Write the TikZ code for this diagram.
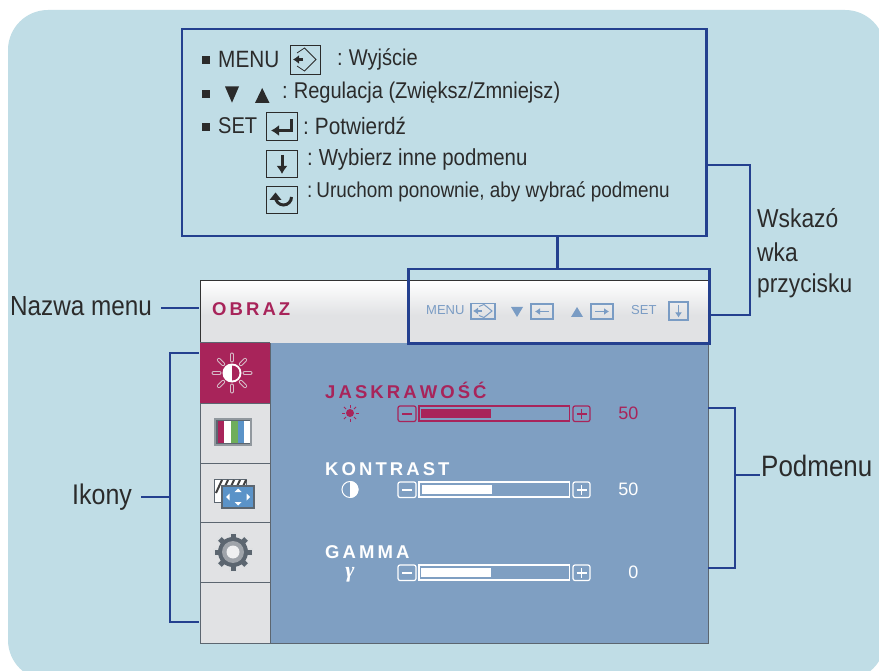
\documentclass[tikz,border=0pt]{standalone}
\usepackage{xcolor}
\usepackage{fontspec}
\setmainfont{Liberation Sans}
\newfontfamily\waski[FakeStretch=0.88]{Liberation Sans}
\newfontfamily\grecki{Liberation Serif}
\usetikzlibrary{calc}
\usetikzlibrary{positioning}
\usetikzlibrary{arrows.meta}
\definecolor{tlo}{HTML}{C0DDE6}
\definecolor{linia}{HTML}{24408F}
\definecolor{panel}{HTML}{7F9FC2}
\definecolor{szary}{HTML}{E1E2E4}
\definecolor{malina}{HTML}{A8245A}
\definecolor{ramka}{HTML}{5C6670}
\definecolor{tekst}{HTML}{2B2B2B}
\definecolor{ikona}{HTML}{7A9CC4}
\definecolor{zielony}{HTML}{6FAE5B}
\definecolor{niebieski}{HTML}{5B93C8}
\tikzset{
	opis/.style={inner sep=0pt,anchor=west,text=tekst,font=\waski\fontsize{#1}{#1}\selectfont},
	wpis/.style={inner sep=0pt,anchor=west,text=tekst,font=\waski\fontsize{#1}{#1}\selectfont},
	klamra/.style={linia,line width=2.5pt},
	okno/.style={draw=linia,line width=2.5pt,outer sep=0pt,inner sep=0pt,anchor=north west},
	znak/.style={draw=tekst,line width=0.8pt,fill=none},
	grot/.style={tekst,line width=3pt,-{Latex[length=8pt,width=11pt]}},
	mbox/.style={fill=tekst,minimum size=8pt,inner sep=0pt},
	podzial/.style={ramka,line width=1pt},
	tytul/.style={inner sep=0pt,anchor=west,font=\bfseries\fontsize{18.5}{18.5}\selectfont},
	wartosc/.style={inner sep=0pt,anchor=east,font=\fontsize{18}{18}\selectfont},
	pas/.style={inner sep=0pt,anchor=west,text=ikona,font=\fontsize{13}{13}\selectfont},
	pasek grot/.style={ikona,line width=1.8pt,-{Latex[length=5pt,width=7pt]}},
}
\newcommand{\suwak}[4]{%
	\draw[#1,line width=1.2pt,rounded corners=2pt] (398,#2-7.5) rectangle (416,#2+8);
	\draw[#1,line width=1.2pt] (402,#2+0.5)--(412,#2+0.5);
	\draw[#1,line width=1.2pt] (419,#2-7.5) rectangle (569.5,#2+7.5);
	\fill[#1] (#3,#2-4.5) rectangle (#3+70,#2+4.5);
	\draw[#1,line width=1.2pt,rounded corners=2pt] (573,#2-7.5) rectangle (590,#2+8);
	\draw[#1,line width=1.2pt] (576.5,#2+0.5)--(586.5,#2+0.5) (581.5,#2-4.5)--(581.5,#2+5.5);
	\node[wartosc,text=#1] at (638.5,#2) {#4};
}
\begin{document}
\begin{tikzpicture}[x=1pt,y=-1pt]
	\useasboundingbox (0,0) rectangle (879,671);
	\fill[white] (0,0) rectangle (879,671);
	\fill[tlo,rounded corners=40pt] (8,10) rectangle (885,680);
	% monitor
	\shade[top color=white,bottom color=szary] (200,281) rectangle (708,315);
	\fill[szary] (200,315) rectangle (708,343);
	\draw[black!80,line width=1pt] (200,343)--(200,281)--(708,281);
	\fill[panel] (270,343) rectangle (708,643);
	\fill[szary] (200,343) rectangle (270,643);
	\draw[ramka,line width=1pt] (708,343)--(708,643)--(200,643)--(200,343);
	\node[tytul,text=malina] (obraz) at (212,309) {O\,B\,R\,A\,Z};
	% ikony
	\fill[malina] (200,343) rectangle (270,403);
	\draw[podzial] (200,343)--(270,343) (200,403)--(270,403) (200,463)--(270,463) (200,522)--(270,522) (200,582)--(270,582);
	\draw[ramka,line width=1pt] (270,343)--(270,643);
	\foreach \k in {0,45,...,315}{
		\draw[szary!80!malina,line width=4pt,line cap=round] ($(232,373)+(\k:12.5)$)--($(232,373)+(\k:18.5)$);
		\draw[malina,line width=2pt,line cap=round] ($(232,373)+(\k:12.5)$)--($(232,373)+(\k:18.5)$);
	}
	\fill[white] (232,373) circle (9.5);
	\fill[malina] (232,365.5) arc (-90:90:7.5) -- cycle;
	\fill[ramka!60!szary] (214,418) rectangle (252,446);
	\fill[ramka] (216,420) rectangle (250,444);
	\fill[white] (217.5,421) rectangle (250,443);
	\fill[malina] (217.5,421) rectangle (224,443);
	\fill[zielony] (231,421) rectangle (237.5,443);
	\fill[niebieski] (237.5,421) rectangle (244,443);
	\fill[white,draw=ramka,line width=1pt] (214,479) rectangle (246,502);
	\foreach \k in {216,222,...,240}
		\draw[black!75,line width=2pt] (\k,493)--(\k+6,480);
	\fill[niebieski,draw=ramka,line width=1.5pt] (222,486) rectangle (254,508);
	\fill[white] (238,488.5) -- (241.5,492) -- (234.5,492) -- cycle (238,505.5) -- (241.5,502) -- (234.5,502) -- cycle
		(226,497) -- (229.5,493.5) -- (229.5,500.5) -- cycle (250,497) -- (246.5,493.5) -- (246.5,500.5) -- cycle;
	\foreach \k in {0,45,...,315}{
		\draw[white!80!ramka,line width=8pt] ($(233,552)+(\k:12)$)--($(233,552)+(\k:20)$);
		\draw[ramka,line width=5pt] ($(233,552)+(\k:12)$)--($(233,552)+(\k:18.5)$);
	}
	\fill[ramka] (233,552) circle (15);
	\fill[ramka!50!szary] (233,552) circle (11);
	\fill[white!90!ramka] (233,552) circle (6.5);
	% pasek przyciskow
	\node[pas] (menu) at (426,310.5) {MENU};
	\draw[ikona,line width=1.2pt] (471,303.5) rectangle (495,319);
	\draw[ikona,line width=1pt] (479,306.5)--(484,304.5)--(492,311)--(484,317.5)--(479,315.5);
	\draw[pasek grot] (482,311)--(473,311);
	\fill[ikona] (511,307) -- (523,307) -- (517,317) -- cycle;
	\draw[ikona,line width=1.2pt] (531,304) rectangle (553,319);
	\draw[pasek grot] (549,311.5)--(535,311.5);
	\fill[ikona] (571,317) -- (583,317) -- (577,307) -- cycle;
	\draw[ikona,line width=1.2pt] (591,304) rectangle (613,319);
	\draw[pasek grot] (595,311.5)--(609,311.5);
	\node[pas] (set) at (631,310.5) {SET};
	\draw[ikona,line width=1.2pt] (669,302) rectangle (688,320);
	\draw[pasek grot] (678.5,305)--(678.5,317.5);
	% suwaki
	\node[tytul,text=malina] (jaskrawosc) at (325,390) {J\,A\,S\,K\,R\,A\,W\,O\,Ś\,Ć};
	\node[tytul,text=white] (kontrast) at (325,469.5) {K\,O\,N\,T\,R\,A\,S\,T};
	\node[tytul,text=white] (gamma) at (325,552) {G\,A\,M\,M\,A};
	\suwak{malina}{413.5}{421}{50}
	\suwak{white}{489.5}{422}{50}
	\suwak{white}{572.5}{421}{0}
	\fill[malina] (350,413) circle (4);
	\foreach \k in {0,45,...,315}
		\draw[malina,line width=0.8pt] ($(350,413)+(\k:5.5)$)--($(350,413)+(\k:8.5)$);
	\fill[white] (350,481) arc (-90:90:8.5) -- cycle;
	\draw[white,line width=1pt] (350,489.5) circle (8);
	\node[inner sep=0pt,text=white,font=\grecki\bfseries\itshape\fontsize{22}{22}\selectfont] (gam) at (350,575) {γ};
	% ramka opisu
	\node[okno,minimum width=524.5pt,minimum height=207pt] (legenda) at (182,29) {};
	\node[okno,minimum width=301pt,minimum height=74.3pt] (pasek) at (408.3,269) {};
	\node[mbox] (m1) at (206,60.5) {};
	\node[mbox] (m2) at (206,94) {};
	\node[mbox] (m3) at (206,127) {};
	\node[wpis=23.6] (w1) at (218,59) {MENU};
	\draw[znak] (290,45) rectangle (320.5,74);
	\draw[znak] (297,53)--(304.5,48)--(316,59.5)--(304.5,71)--(297,66);
	\draw[tekst,line width=3pt,-{Latex[length=6pt,width=9pt]}] (303,59.5)--(293,59.5);
	\node[wpis=22.8] (w1b) at (337,59) {:\hspace{6pt}Wyjście};
	\fill[tekst] (225,86.5)--(239,86.5)--(232,102.7)--cycle;
	\fill[tekst] (255,103)--(269.5,103)--(262.2,88)--cycle;
	\node[wpis=22.8] (w2) at (282,92.5) {:\hspace{6pt}Regulacja (Zwiększ/Zmniejsz)};
	\node[wpis=22.8] (w3) at (218,126) {SET};
	\draw[znak] (266.5,112) rectangle (297,140);
	\draw[grot] (291,119)--(291,130.5)--(271,130.5);
	\node[wpis=23.6] (w3b) at (303,126) {:\hspace{6pt}Potwierdź};
	\draw[znak] (266.5,150.5) rectangle (297,177.5);
	\draw[grot] (282,155)--(282,174);
	\node[wpis=23.2] (w4) at (307,159.5) {:\hspace{6pt}Wybierz inne podmenu};
	\draw[znak] (266.5,186.5) rectangle (297,213.5);
	\draw[tekst,line width=3pt] (291.5,197) arc (0:180:8);
	\fill[tekst] (275.5,192.5)--(281.5,200)--(269.5,200)--cycle;
	\node[wpis=21.5] (w5) at (307,191.5) {:\hspace{4pt}Uruchom ponownie, aby wybrać podmenu};
	% opisy
	\node[opis=27.6] (nazwa) at (10,306.5) {Nazwa menu};
	\node[opis=28.4] (ikony) at (72,497) {Ikony};
	\node[opis=25.9] (wskazowka1) at (757,218) {Wskazó};
	\node[opis=25.9] (wskazowka2) at (757,252) {wka};
	\node[opis=25.9] (wskazowka3) at (757,286) {przycisku};
	\node[opis=29.5] (podmenu) at (761,466) {Podmenu};
	\coordinate (klamra1) at (170,353);
	\coordinate (klamra2) at (170,622);
	\coordinate (klamra3) at (735,408);
	\coordinate (klamra4) at (735,568);
	\coordinate (klamra5) at (750,165);
	\coordinate (klamra6) at (750,315);
	% laczniki
	\draw[klamra] (161,308)--(199,308);
	\draw[klamra] (199,353)--(klamra1)--(klamra2)--(199,622);
	\draw[klamra] (141,497)--(170,497);
	\draw[klamra] (708,408)--(klamra3)--(klamra4)--(708,568);
	\draw[klamra] (735,475)--(760,475);
	\draw[klamra] (legenda.east |- klamra5)--(klamra5)--(klamra6)--(pasek.east |- klamra6);
	\draw[klamra] (legenda.south -| 557.5,0)--(pasek.north -| 557.5,0);
\end{tikzpicture}
\end{document}
